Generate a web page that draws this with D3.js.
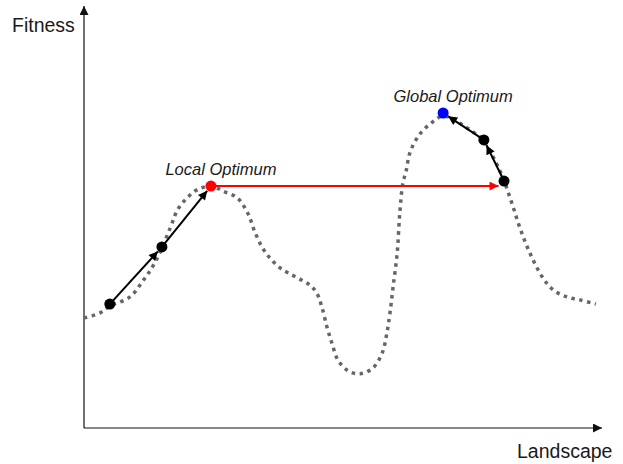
<!DOCTYPE html>
<html>
<head>
<meta charset="utf-8">
<script src="https://cdn.jsdelivr.net/npm/d3@7"></script>
<style>
  body { margin: 0; background: #fff; }
  text { font-family: "Liberation Sans", Arial, sans-serif; fill: #1a1a1a; }
</style>
</head>
<body>
<svg id="chart"></svg>
<script>
// landscape curve, x = position (0-100), y = fitness (0-100)
const landscapeX = [0, 3.1, 5.0, 8.9, 11.4, 13.8, 16.7, 18.2, 20.0, 21.9, 24.8, 26.9, 29.7, 31.8, 33.1, 34.5,
  36.0, 38.0, 39.9, 42.2, 44.0, 45.2, 46.1, 47.1, 48.1, 49.2, 51.2, 53.5, 56.0, 57.8, 58.7, 59.3, 59.9,
  60.7, 61.2, 61.8, 62.4, 63.2, 65.1, 67.6, 69.6, 72.3, 74.8, 77.3, 79.3, 81.2, 82.9, 84.5, 86.4, 88.8,
  90.9, 93.6, 96.1, 99.2];
const landscapeY = [26.2, 27.4, 29.0, 31.2, 35.0, 39.5, 47.6, 52.1, 54.8, 56.7, 57.6, 56.4, 54.8, 51.0, 46.7, 43.1,
  40.5, 38.1, 36.7, 35.2, 33.8, 31.9, 28.8, 24.0, 20.0, 16.2, 13.6, 12.9, 14.3, 17.9, 22.6, 27.4, 33.6,
  41.7, 51.2, 58.3, 61.0, 65.7, 70.0, 72.9, 74.3, 72.9, 71.0, 68.6, 64.5, 59.5, 53.6, 47.6, 41.7, 36.0,
  32.9, 31.2, 30.5, 29.5];

// search steps
const stepNames = ['start1', 'step1', 'local', 'start2', 'step2', 'global'];
const stepX = [5.0, 15.1, 24.6, 81.4, 77.5, 69.6];
const stepY = [29.5, 43.1, 57.6, 58.8, 68.6, 75.0];
const stepColors = ['black', 'black', 'red', 'black', 'black', 'blue'];

// hill-climbing moves between steps: [from, to]
const climbs = [
  ['start1', 'step1'],
  ['step1', 'local'],
  ['start2', 'step2'],
  ['step2', 'global']
];
// the jump out of the local optimum, drawn flat at its fitness
const jump = ['local', 'start2'];

const labels = [
  { text: 'Local Optimum', at: 'local' },
  { text: 'Global Optimum', at: 'global' }
];

const width = 623, height = 464;

const x = d3.scaleLinear().domain([0, 100]).range([84, 600]);
const y = d3.scaleLinear().domain([0, 100]).range([428, 8]);

const svg = d3.select('#chart').attr('width', width).attr('height', height);

const defs = svg.append('defs');
[['black', 'black', 12, 9], ['red', 'red', 12, 9], ['axis', '#111', 13, 9]].forEach(([id, fill, w, h]) => {
  defs.append('marker')
    .attr('id', 'arrow-' + id)
    .attr('markerUnits', 'userSpaceOnUse')
    .attr('viewBox', '0 0 10 10')
    .attr('refX', 10).attr('refY', 5)
    .attr('markerWidth', w)
    .attr('markerHeight', h)
    .attr('orient', 'auto')
    .append('path')
    .attr('d', 'M0,0L10,5L0,10Z')
    .attr('fill', fill);
});

// axes
svg.append('line')
  .attr('x1', x(0)).attr('y1', y(0))
  .attr('x2', x(0)).attr('y2', 6)
  .attr('stroke', '#111').attr('stroke-width', 1.2)
  .attr('marker-end', 'url(#arrow-axis)');
svg.append('line')
  .attr('x1', x(0)).attr('y1', y(0))
  .attr('x2', 602).attr('y2', y(0))
  .attr('stroke', '#111').attr('stroke-width', 1.2)
  .attr('marker-end', 'url(#arrow-axis)');

svg.append('text').attr('x', 12).attr('y', 32).attr('font-size', 19.5).text('Fitness');
svg.append('text').attr('x', 517).attr('y', 458).attr('font-size', 19.5).text('Landscape');

// landscape
const line = d3.line()
  .x((d, i) => x(landscapeX[i]))
  .y((d, i) => y(landscapeY[i]))
  .curve(d3.curveCatmullRom);

svg.append('path')
  .datum(landscapeX)
  .attr('d', line)
  .attr('fill', 'none')
  .attr('stroke', '#666')
  .attr('stroke-width', 3.5)
  .attr('stroke-dasharray', '3.5 4.5');

const pos = name => {
  const i = stepNames.indexOf(name);
  return [x(stepX[i]), y(stepY[i])];
};

const r = 5.5;

// climbing moves
climbs.forEach(([from, to]) => {
  const [x1, y1] = pos(from);
  const [x2, y2] = pos(to);
  const len = Math.hypot(x2 - x1, y2 - y1);
  const k = (len - r - 0.5) / len;
  svg.append('line')
    .attr('x1', x1).attr('y1', y1)
    .attr('x2', x1 + (x2 - x1) * k).attr('y2', y1 + (y2 - y1) * k)
    .attr('stroke', 'black').attr('stroke-width', 2)
    .attr('marker-end', 'url(#arrow-black)');
});

// jump
{
  const [x1, y1] = pos(jump[0]);
  const [x2] = pos(jump[1]);
  svg.append('line')
    .attr('x1', x1).attr('y1', y1)
    .attr('x2', x2 - r).attr('y2', y1)
    .attr('stroke', 'red').attr('stroke-width', 2)
    .attr('marker-end', 'url(#arrow-red)');
}

// points
svg.selectAll('circle.step')
  .data(stepNames)
  .join('circle')
  .attr('class', 'step')
  .attr('cx', d => pos(d)[0])
  .attr('cy', d => pos(d)[1])
  .attr('r', r)
  .attr('fill', (d, i) => stepColors[i]);

svg.selectAll('text.label')
  .data(labels)
  .join('text')
  .attr('class', 'label')
  .attr('x', d => pos(d.at)[0] + 10)
  .attr('y', d => pos(d.at)[1] - 11)
  .attr('text-anchor', 'middle')
  .attr('font-size', 16.5)
  .attr('font-style', 'italic')
  .text(d => d.text);
</script>
</body>
</html>
